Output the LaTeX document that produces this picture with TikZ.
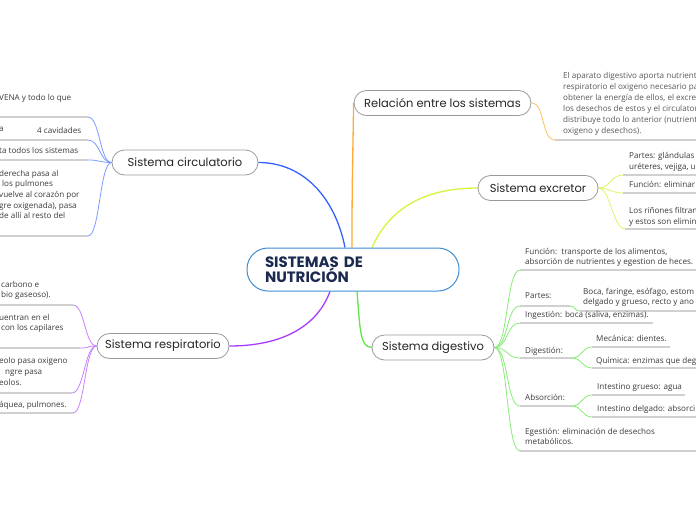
\documentclass[tikz,border=0pt]{standalone}
\usepackage{fontspec}
\setmainfont{Open Sans}
\newfontfamily\topicfont{Poppins}
\usetikzlibrary{positioning, backgrounds}
\definecolor{circline}{HTML}{3563FF}
\definecolor{respline}{HTML}{A93BFF}
\definecolor{relline}{HTML}{FFAA33}
\definecolor{excrline}{HTML}{D5F53A}
\definecolor{digline}{HTML}{62E64A}
\definecolor{corenavy}{HTML}{1B2A4E}
\definecolor{coreblue}{HTML}{3F8ED2}
\definecolor{leafgray}{HTML}{3A3A3A}
\definecolor{rulegray}{HTML}{D0D0D0}

\begin{document}
\begin{tikzpicture}[x=1pt, y=-1pt,
  core/.style={draw=coreblue, line width=1pt, fill=white, rounded corners=21pt,
    text width=176pt, inner xsep=18pt, minimum height=43pt, align=left,
    text=corenavy, font=\topicfont\bfseries\fontsize{15}{15.5}\selectfont},
  topic/.style={draw=black!40, line width=0.8pt, fill=white, rounded corners=12.5pt,
    minimum height=25pt, inner sep=0pt, text=black!85,
    font=\topicfont\fontsize{11.5}{13}\selectfont},
  leaf/.style={anchor=north west, inner sep=0pt, align=left, text=leafgray,
    font=\fontsize{8.1}{10.6}\selectfont},
  uline/.style={draw=rulegray, line width=1.1pt},
  branch/.style={line width=1.3pt},
  twig/.style={line width=0.8pt}]
  \useasboundingbox (0,0) rectangle (696,520);
  \clip (0,0) rectangle (696,520);

  % centro y temas
  \node[core] (nutri) at (353,269.5) {SISTEMAS DE\\NUTRICIÓN};
  \node[topic, minimum width=146pt] (circ) at (185,162.5) {Sistema circulatorio};
  \node[topic, minimum width=132pt] (resp) at (163,346) {Sistema respiratorio};
  \node[topic, minimum width=177pt] (rel) at (442.5,103) {Relación entre los sistemas};
  \node[topic, minimum width=120pt] (excr) at (538,188) {Sistema excretor};
  \node[topic, minimum width=122pt] (dig) at (433,347.5) {Sistema digestivo};

  % circulatorio
  \node[leaf] (c1) at (-1,94) {VENA y todo lo que};
  \node[leaf] (c2a) at (-1,127) {a};
  \node[leaf] (c2b) at (37,127) {4 cavidades};
  \node[leaf] (c3) at (-1,147.5) {ta todos los sistemas};
  \node[leaf] (c4) at (-1,170) {derecha pasa al\\\hspace*{3pt}los pulmones\\vuelve al corazón por\\gre oxigenada), pasa\\de allí al resto del};
  \coordinate (c1e) at (88,117);
  \coordinate (c2e) at (88,140);
  \coordinate (c3e) at (88,160);
  \coordinate (c4e) at (88,236);

  % respiratorio
  \node[leaf] (r1) at (1,281) {carbono e\\bio gaseoso).};
  \node[leaf] (r2) at (-1,314) {uentran en el\\\hspace*{2pt}con los capilares};
  \node[leaf] (r3) at (-1,357.5) {eolo pasa oxigeno\\\hspace*{6pt}ngre pasa\\eolos.};
  \node[leaf] (r4) at (-1,401) {áquea, pulmones.};
  \coordinate (r1e) at (73,305);
  \coordinate (r2e) at (80,348);
  \coordinate (r3e) at (72,393);
  \coordinate (r4e) at (73,413);

  % relacion
  \node[leaf, text=black!65, font=\fontsize{8.1}{11}\selectfont] (relt) at (563,72) {El aparato digestivo aporta nutrient\\respiratorio el oxigeno necesario pa\\obtener la energía de ellos, el excre\\los desechos de estos y el circulator\\distribuye todo lo anterior (nutrient\\oxigeno y desechos).};
  \coordinate (rels) at (555,140);

  % excretor
  \node[leaf] (e1) at (629,152) {Partes: glándulas\\uréteres, vejiga, u};
  \node[leaf] (e2) at (629,181.5) {Función: eliminar};
  \node[leaf] (e3) at (629,207) {Los riñones filtran\\y estos son elimin};
  \coordinate (e1s) at (623,175);
  \coordinate (e2s) at (623,193);
  \coordinate (e3s) at (625,229);

  % digestivo
  \node[leaf, font=\fontsize{8.1}{10.2}\selectfont] (d1) at (525,248) {Función:\ \ transporte de los alimentos,\\absorción de nutrientes y egestion de heces.};
  \node[leaf] (d2) at (525,293) {Partes:};
  \node[leaf, font=\fontsize{8.1}{10.2}\selectfont] (d2b) at (583,288) {Boca, faringe, esófago, estom\\delgado y grueso, recto y ano};
  \node[leaf] (d3) at (525,311.5) {Ingestión: boca (saliva, enzimas).};
  \node[leaf] (d4) at (525,347) {Digestión:};
  \node[leaf] (d4a) at (596,335) {Mecánica: dientes.};
  \node[leaf] (d4b) at (596,357) {Química: enzimas que deg};
  \node[leaf] (d5) at (525,394) {Absorción:};
  \node[leaf] (d5a) at (597,383) {Intestino grueso: agua};
  \node[leaf] (d5b) at (597,405) {Intestino delgado: absorci};
  \node[leaf, font=\fontsize{8.1}{10.2}\selectfont] (d6) at (525,428) {Egestión: eliminación de desechos\\metabólicos.};
  \coordinate (d1s) at (520,270);
  \coordinate (d2s) at (520,306);
  \coordinate (d2e) at (570,306);
  \coordinate (d2f) at (580,311);
  \coordinate (d3s) at (520,323);
  \coordinate (d4s) at (520,358);
  \coordinate (d4e) at (572,358);
  \coordinate (d4f) at (592,347);
  \coordinate (d4g) at (592,368);
  \coordinate (d5s) at (520,406);
  \coordinate (d5e) at (572,406);
  \coordinate (d5f) at (592,395);
  \coordinate (d5g) at (592,417);
  \coordinate (d6s) at (520,451);

  \begin{scope}[on background layer]
  \fill[white] (0,0) rectangle (696,520);
  % ramas principales
  \draw[branch, circline] ([xshift=-8pt]nutri.north) .. controls +(-10,-50) and +(45,0) .. (circ.east);
  \draw[branch, relline] ([xshift=-1pt]nutri.north) .. controls +(0,-70) and +(-1,70) .. (rel.west);
  \draw[branch, excrline] ([xshift=19pt]nutri.north) .. controls +(20,-45) and +(-45,0) .. (excr.west);
  \draw[branch, respline] ([xshift=-23pt]nutri.south) .. controls +(-15,40) and +(45,0) .. (resp.east);
  \draw[branch, digline] ([xshift=4pt]nutri.south) .. controls +(3,35) and +(-12,0) .. (dig.west);

  \foreach \e in {c1e,c2e,c3e,c4e}{
    \draw[uline] (\e) -- ++(-90,0);
    \draw[twig, circline!65] (circ.west) .. controls +(-12,0) and +(12,0) .. (\e);
  }
  \foreach \e in {r1e,r2e,r3e,r4e}{
    \draw[uline] (\e) -- ++(-80,0);
    \draw[twig, respline!65] (resp.west) .. controls +(-12,0) and +(12,0) .. (\e);
  }
  \draw[uline] (rels) -- ++(145,0);
  \draw[twig, relline!75] (rel.east) .. controls +(14,0) and +(-14,0) .. (rels);
  \foreach \s in {e1s,e2s,e3s}{
    \draw[uline] (\s) -- ++(80,0);
    \draw[twig, excrline!80] (excr.east) .. controls +(12,0) and +(-12,0) .. (\s);
  }
  \draw[uline] (d1s) -- ++(180,0);
  \draw[uline] (d2s) -- (d2e);
  \draw[uline] (d2f) -- ++(120,0);
  \draw[uline] (d3s) -- ++(133,0);
  \draw[uline] (d4s) -- (d4e);
  \draw[uline] (d4f) -- ++(78,0);
  \draw[uline] (d4g) -- ++(110,0);
  \draw[uline] (d5s) -- (d5e);
  \draw[uline] (d5f) -- ++(93,0);
  \draw[uline] (d5g) -- ++(110,0);
  \draw[uline] (d6s) -- ++(180,0);
  \foreach \s in {d1s,d2s,d3s,d4s,d5s,d6s}
    \draw[twig, digline!75] (dig.east) .. controls +(14,0) and +(-14,0) .. (\s);
  \draw[twig, digline!75] (d2e) .. controls +(6,0) and +(-6,0) .. (d2f);
  \foreach \s in {d4f,d4g}
    \draw[twig, digline!75] (d4e) .. controls +(10,0) and +(-10,0) .. (\s);
  \foreach \s in {d5f,d5g}
    \draw[twig, digline!75] (d5e) .. controls +(10,0) and +(-10,0) .. (\s);
  \end{scope}
\end{tikzpicture}
\end{document}
